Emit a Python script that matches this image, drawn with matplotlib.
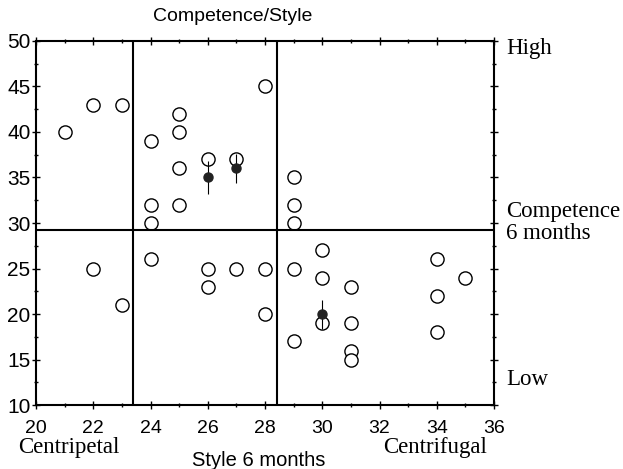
import numpy as np
import matplotlib
matplotlib.use("Agg")
import matplotlib.pyplot as plt
from matplotlib.ticker import MultipleLocator

# individual subjects: style (x) vs competence (y) at 6 months
style = [21, 22, 23, 24, 24, 24, 25, 25, 25, 25, 26, 27, 28, 29, 29, 29,
         22, 23, 24, 26, 26, 27, 28, 28, 29, 29, 30, 30, 30, 31, 31, 31, 31,
         34, 34, 34, 35]
competence = [40, 43, 43, 39, 32, 30, 42, 40, 36, 32, 37, 37, 45, 35, 32, 30,
              25, 21, 26, 25, 23, 25, 25, 20, 25, 17, 27, 24, 19, 23, 19, 16, 15,
              26, 22, 18, 24]

# group means with error bars
mean_x = [26, 27, 30]
mean_y = [35, 36, 20]
mean_err = [1.8, 1.6, 1.6]

split_x = [23.4, 28.4]
split_y = 29.2

serif = ["Liberation Serif", "DejaVu Serif"]
sans = ["Liberation Sans", "DejaVu Sans"]

fig = plt.figure(figsize=(6.23, 4.69), dpi=100)
ax = fig.add_axes([0.058, 0.136, 0.735, 0.777])

ax.plot(style, competence, "o", ms=9.5, mfc="white", mec="black", mew=1.0, ls="none")
ax.errorbar(mean_x, mean_y, yerr=mean_err, fmt="o", ms=6.5, color="#222222",
            ecolor="black", elinewidth=0.8, capsize=0)

for xv in split_x:
    ax.axvline(xv, color="black", lw=1.5)
ax.axhline(split_y, color="black", lw=1.5)

ax.set_xlim(20, 36)
ax.set_ylim(10, 50)
ax.xaxis.set_major_locator(MultipleLocator(2))
ax.xaxis.set_minor_locator(MultipleLocator(1))
ax.yaxis.set_major_locator(MultipleLocator(5))
ax.yaxis.set_minor_locator(MultipleLocator(2.5))
ax.tick_params(which="both", direction="inout", top=True, right=True, width=1)
ax.tick_params(which="major", length=6)
ax.tick_params(which="minor", length=3)
ax.tick_params(axis="x", labelsize=14, pad=8)
ax.tick_params(axis="y", labelsize=15, pad=1)
for lab in ax.get_xticklabels() + ax.get_yticklabels():
    lab.set_family(sans)
for sp in ax.spines.values():
    sp.set_linewidth(1.5)

fig.text(0.374, 0.965, "Competence/Style", family=sans, fontsize=14,
         ha="center", va="center")

fig.text(0.813, 0.897, "High", family=serif, fontsize=16.5, va="center")
fig.text(0.813, 0.525, "Competence\n6 months", family=serif, fontsize=16.5,
         va="center", linespacing=1.05)
fig.text(0.813, 0.19, "Low", family=serif, fontsize=16.5, va="center")

fig.text(0.029, 0.045, "Centripetal", family=serif, fontsize=16.5, va="center")
fig.text(0.308, 0.019, "Style 6 months", family=sans, fontsize=14.5, va="center")
fig.text(0.615, 0.045, "Centrifugal", family=serif, fontsize=16.5, va="center")

fig.savefig("out.png", dpi=100)
